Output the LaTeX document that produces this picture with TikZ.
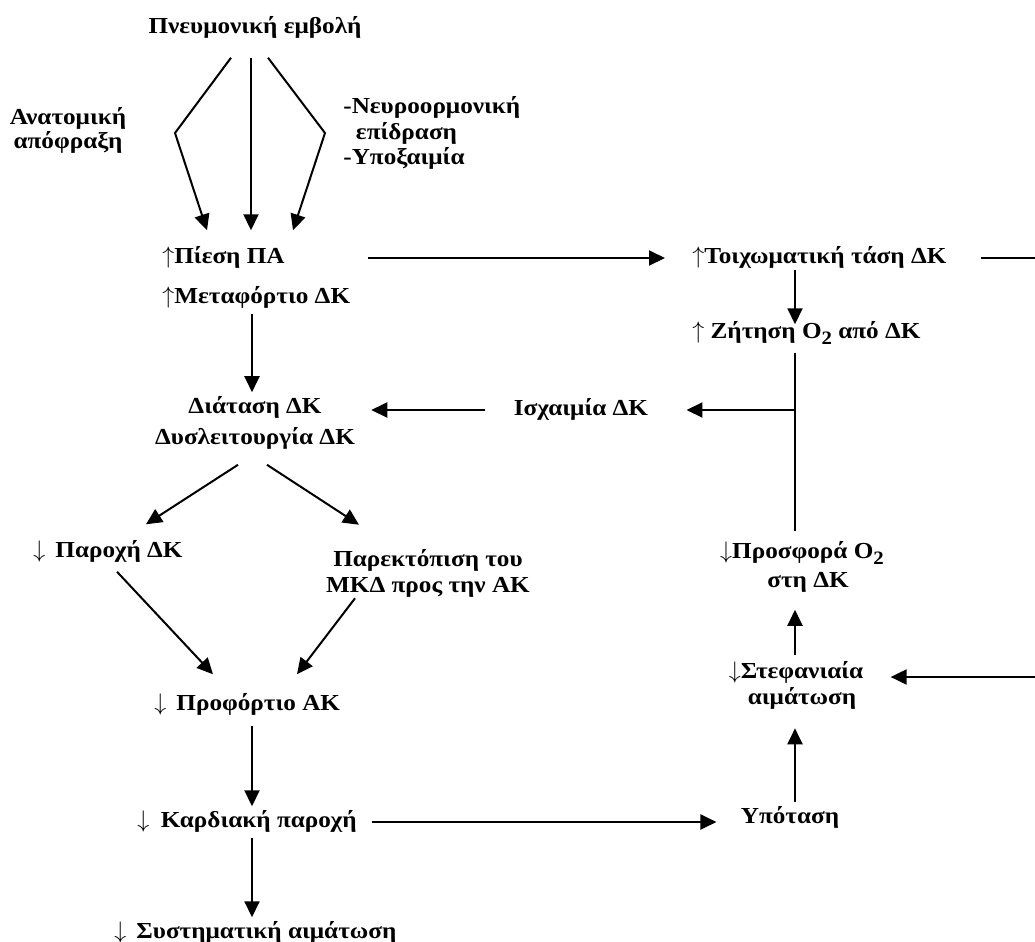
\documentclass[tikz,border=0pt]{standalone}
\usepackage{fontspec}
\setmainfont{Liberation Serif}[FakeStretch=1.1]
\usetikzlibrary{arrows.meta, calc}
\newcommand{\otwo}{O\raisebox{-0.55ex}{\fontsize{9.5}{9.5}\selectfont 2}}

\begin{document}
\begin{tikzpicture}[x=0.5bp, y=-0.5bp,
    txt/.style={font=\fontsize{11.5}{13}\selectfont\bfseries, inner sep=2pt, text height=8.5pt, text depth=2.9pt},
    blk/.style={font=\fontsize{11.5}{13}\selectfont\bfseries, inner sep=2pt, align=center},
    arr/.style={line width=1bp, -{Triangle[length=8bp, width=7.5bp]}},
    ln/.style={line width=1bp}]
  \useasboundingbox (0,0) rectangle (1035,942);
  % columns and bends
  \coordinate (lcol) at (252,0);
  \coordinate (rcol) at (795,0);
  \coordinate (bendL) at (175,133);
  \coordinate (bendR) at (325,133);
  % left column
  \node[txt] (emb) at (255,28) {Πνευμονική εμβολή};
  \node[blk] (anat) at (68,130) {Ανατομική\\[-1pt]απόφραξη};
  \node[blk, align=left, anchor=west] (neur) at (339,133) {-Νευροορμονική\\\hspace*{0.55em}επίδραση\\-Υποξαιμία};
  \node[txt, anchor=west] (pies) at (158,258) {$\uparrow$Πίεση ΠΑ};
  \node[txt, anchor=west] (meta) at (158,298) {$\uparrow$Μεταφόρτιο ΔΚ};
  \node[blk] (diat) at (255,423) {Διάταση ΔΚ\\[2.5pt]Δυσλειτουργία ΔΚ};
  \node[txt, anchor=west] (parox) at (29,552) {$\downarrow$ \,Παροχή ΔΚ};
  \node[blk] (parek) at (428,573) {Παρεκτόπιση του\\ΜΚΔ προς την ΑΚ};
  \node[txt, anchor=west] (prof) at (150,705) {$\downarrow$ \,Προφόρτιο ΑΚ};
  \node[txt, anchor=west] (kard) at (133,822) {$\downarrow$\enskip Καρδιακή παροχή};
  \node[txt, anchor=west] (syst) at (110,933) {$\downarrow$ \,Συστηματική αιμάτωση};
  % right column
  \node[txt, anchor=west] (toix) at (688,258) {$\uparrow$Τοιχωματική τάση ΔΚ};
  \node[txt, anchor=west] (zit) at (688,333) {$\uparrow$ Ζήτηση \otwo{} από ΔΚ};
  \node[txt] (isx) at (581,410) {Ισχαιμία ΔΚ};
  \node[blk] (pros) at (808,567) {\llap{$\downarrow$}Προσφορά \otwo\\[1.5pt]στη ΔΚ};
  \node[blk] (stef) at (802,685) {\llap{$\downarrow$}Στεφανιαία\\αιμάτωση};
  \node[txt] (ypot) at (790,818) {Υπόταση};
  % embolism to PA pressure
  \draw[arr] ($(emb.south)+(-24,14)$) -- (bendL) -- ($(lcol |- pies.north)+(-45,-12)$);
  \draw[arr] ($(emb.south)+(-4,14)$) -- ($(lcol |- pies.north)+(-1,-12)$);
  \draw[arr] ($(emb.south)+(13,14)$) -- (bendR) -- ($(lcol |- pies.north)+(41,-12)$);
  % left chain
  \draw[arr] (lcol |- meta.south) -- (lcol |- diat.north);
  \draw[arr] ($(lcol |- diat.south)+(-14,11)$) -- ($(parox.north)+(38,-12)$);
  \draw[arr] ($(lcol |- diat.south)+(15,11)$) -- ($(parek.north)+(-69,-20)$);
  \draw[arr] ($(parox.south)+(9,4)$) -- ($(lcol |- prof.north)+(-39,-15)$);
  \draw[arr] ($(parek.south)+(-73,-3)$) -- ($(lcol |- prof.north)+(45,-15)$);
  \draw[arr] ($(lcol |- prof.south)+(0,5)$) -- (lcol |- kard.north);
  \draw[arr] (lcol |- kard.south) -- (lcol |- syst.north);
  % across
  \draw[arr] ($(pies.east)+(79,0)$) -- ($(toix.west)+(-23,0)$);
  \draw[arr] ($(kard.east)+(11,0)$) -- ($(kard.east -| ypot.west)+(-20,0)$);
  \draw[arr] ($(isx.west)+(-25,0)$) -- ($(diat.east |- isx.west)+(12,0)$);
  % right chain
  \draw[arr] ($(rcol |- toix.south)+(0,-4)$) -- ($(rcol |- zit.north)+(0,7)$);
  \draw[ln] ($(rcol |- zit.south)+(0,4)$) -- ($(rcol |- pros.north)+(0,-6)$);
  \draw[arr] (rcol |- isx) -- ($(isx.east)+(34,0)$);
  \draw[arr] (rcol |- ypot.north) -- ($(rcol |- stef.south)+(0,15)$);
  \draw[arr] ($(rcol |- stef.north)+(0,-2)$) -- ($(rcol |- pros.south)+(0,13)$);
  % wall tension back to coronary perfusion
  \draw[arr] ($(toix.east)+(30,0)$) -- ++(140,0) |- ($(stef.east)+(23,-8)$);
\end{tikzpicture}
\end{document}
